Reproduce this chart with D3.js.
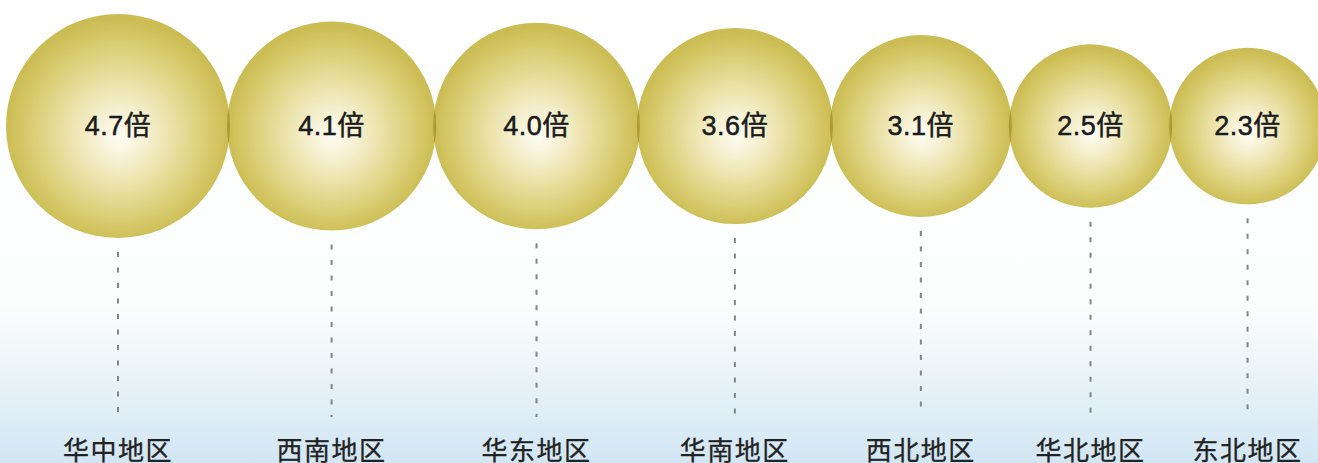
<!DOCTYPE html>
<html>
<head>
<meta charset="utf-8">
<script src="https://cdn.jsdelivr.net/npm/d3@7"></script>
<style>
  html, body { margin: 0; padding: 0; background: #ffffff; }
  svg { display: block; }
</style>
</head>
<body>
<svg id="chart" width="1318" height="463"></svg>
<script>
// Regions and their multiples
const regions = ["华中地区", "西南地区", "华东地区", "华南地区", "西北地区", "华北地区", "东北地区"];
const multiples = [4.7, 4.1, 4.0, 3.6, 3.1, 2.5, 2.3];
const valueLabels = ["4.7倍", "4.1倍", "4.0倍", "3.6倍", "3.1倍", "2.5倍", "2.3倍"];

const W = 1318, H = 463;
const cy = 126;          // common centre line of the bubbles
const firstCx = 118;     // centre of the first bubble
const overlap = 3;       // neighbouring bubbles overlap slightly
const lineEnd = 417;     // bottom of the dashed leader lines
const labelY = 460;      // baseline of the region names

const svg = d3.select("#chart");
const defs = svg.append("defs");

// background: white fading into pale blue at the bottom
const bg = defs.append("linearGradient")
  .attr("id", "bg").attr("x1", 0).attr("y1", 0).attr("x2", 0).attr("y2", 1);
bg.append("stop").attr("offset", 0).attr("stop-color", "#ffffff");
bg.append("stop").attr("offset", 0.66).attr("stop-color", "#fcfdfd");
bg.append("stop").attr("offset", 0.78).attr("stop-color", "#eef6f9");
bg.append("stop").attr("offset", 1).attr("stop-color", "#d1e6f3");
svg.append("rect").attr("width", W).attr("height", H).attr("fill", "url(#bg)");

// bubble shading: pale cream core to olive-gold rim
const rg = defs.append("radialGradient")
  .attr("id", "ball").attr("cx", "50%").attr("cy", "52%").attr("r", "50%")
  .attr("fx", "51%").attr("fy", "55%");
rg.append("stop").attr("offset", 0).attr("stop-color", "#fdfcf3");
rg.append("stop").attr("offset", 0.2).attr("stop-color", "#f7f2d6");
rg.append("stop").attr("offset", 0.45).attr("stop-color", "#ebe3ab");
rg.append("stop").attr("offset", 0.75).attr("stop-color", "#dbcf78");
rg.append("stop").attr("offset", 0.93).attr("stop-color", "#d0c25c");
rg.append("stop").attr("offset", 1).attr("stop-color", "#cbbc53");

// area scale: radius grows with the square root of the value
const r = d3.scaleSqrt().domain([0, d3.max(multiples)]).range([0, 112]);

// chain the bubbles side by side
const data = [];
let x = firstCx;
multiples.forEach((v, i) => {
  const rad = r(v);
  if (i > 0) x += data[i - 1].r + rad - overlap;
  data.push({ region: regions[i], value: v, label: valueLabels[i], cx: x, r: rad });
});

// dashed leader lines
svg.append("g").selectAll("line").data(data).join("line")
  .attr("x1", d => d.cx).attr("x2", d => d.cx)
  .attr("y1", d => cy + d.r + 14).attr("y2", lineEnd)
  .attr("stroke", "#858585").attr("stroke-width", 2)
  .attr("stroke-dasharray", "5 10.5");

// bubbles
const balls = svg.append("g");
balls.selectAll("circle").data(data).join("circle")
  .attr("cx", d => d.cx).attr("cy", cy).attr("r", d => d.r)
  .attr("fill", "url(#ball)");

// darker lens where neighbouring bubbles meet
data.forEach((d, i) => {
  if (i === 0) return;
  const prev = data[i - 1];
  defs.append("clipPath").attr("id", "clip" + i)
    .append("circle").attr("cx", prev.cx).attr("cy", cy).attr("r", prev.r);
  balls.append("circle")
    .attr("cx", d.cx).attr("cy", cy).attr("r", d.r)
    .attr("clip-path", "url(#clip" + i + ")")
    .attr("fill", "#8a7a10").attr("fill-opacity", 0.5);
});

// value labels inside bubbles
svg.append("g").selectAll("text").data(data).join("text")
  .attr("x", d => d.cx).attr("y", cy + 9)
  .attr("text-anchor", "middle")
  .attr("font-family", "'Liberation Sans', Arial, 'Noto Sans CJK SC', sans-serif")
  .attr("font-size", 27).attr("letter-spacing", 0.5)
  .attr("fill", "#1b1b1b").attr("stroke", "#1b1b1b").attr("stroke-width", 0.5)
  .text(d => d.label);

// region names
svg.append("g").selectAll("text").data(data).join("text")
  .attr("x", d => d.cx).attr("y", labelY)
  .attr("text-anchor", "middle")
  .attr("font-family", "'Noto Sans CJK SC', sans-serif")
  .attr("font-size", 26).attr("letter-spacing", 1.5)
  .attr("fill", "#222222").attr("stroke", "#222222").attr("stroke-width", 0.3)
  .text(d => d.region);
</script>
</body>
</html>
